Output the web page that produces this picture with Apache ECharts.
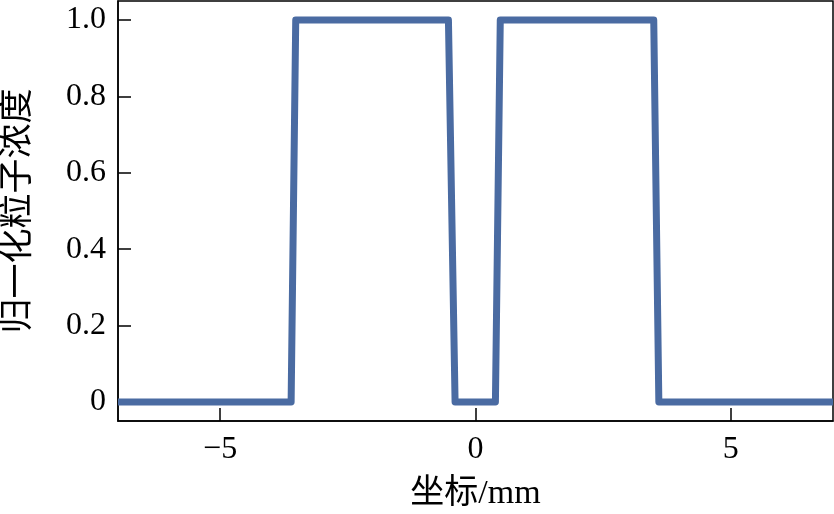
<!DOCTYPE html>
<html lang="zh">
<head>
    <meta charset="UTF-8">
    <title>归一化粒子浓度</title>
    <script src="https://cdn.jsdelivr.net/npm/echarts@6/dist/echarts.min.js"></script>
    <style>
        html, body { margin: 0; padding: 0; background: #fff; }
    </style>
</head>
<body>
<div id="main" style="width: 834px;height:514px;"></div>
<script>
    // profile (coordinate in mm, normalised concentration)
    var coordMm = [-7, -3.61, -3.52, -0.53, -0.40, 0.39, 0.485, 3.49, 3.59, 7];
    var concentration = [0, 0, 1, 1, 0, 0, 1, 1, 0, 0];
    var xTicks = [-5, 0, 5];
    var yTicks = [0, 0.2, 0.4, 0.6, 0.8, 1.0];

    var serif = '"Liberation Serif", "Times New Roman", serif';
    var cjk = '"Liberation Serif", "Noto Sans CJK SC", serif';

    var points = coordMm.map(function (x, i) {
        return [x, concentration[i]];
    });

    var myChart = echarts.init(document.getElementById('main'));
    myChart.setOption({
        animation: false,
        grid: {
            left: 118,
            right: 1,
            top: 1,
            bottom: 93,
            show: true,
            borderColor: '#000',
            borderWidth: 1.5,
            containLabel: false,
            outerBoundsMode: 'none'
        },
        xAxis: {
            type: 'value',
            min: -7,
            max: 7,
            name: '坐标/mm',
            nameLocation: 'middle',
            nameGap: 56,
            nameTextStyle: {color: '#000', fontSize: 34, fontFamily: cjk},
            axisLine: {show: true, onZero: false, lineStyle: {color: '#000', width: 1.5}},
            axisTick: {show: true, inside: true, length: 13, customValues: xTicks,
                lineStyle: {color: '#000', width: 1.5}},
            axisLabel: {
                customValues: xTicks,
                margin: 13,
                color: '#000',
                fontSize: 32,
                fontFamily: serif,
                formatter: function (v) {
                    return v < 0 ? '\u2212' + Math.abs(v) : String(v);
                }
            },
            splitLine: {show: false}
        },
        yAxis: {
            type: 'value',
            min: -0.05,
            max: 1.05,
            name: '归一化粒子浓度',
            nameLocation: 'middle',
            nameRotate: 90,
            nameGap: 82,
            nameTextStyle: {color: '#000', fontSize: 35, fontFamily: cjk},
            axisLine: {show: true, onZero: false, lineStyle: {color: '#000', width: 1.5}},
            axisTick: {show: true, inside: true, length: 13, customValues: yTicks,
                lineStyle: {color: '#000', width: 1.5}},
            axisLabel: {
                customValues: yTicks,
                margin: 12,
                color: '#000',
                fontSize: 32,
                fontFamily: serif,
                formatter: function (v) {
                    return v === 0 ? '0' : v.toFixed(1);
                }
            },
            splitLine: {show: false}
        },
        series: [{
            type: 'line',
            data: points,
            showSymbol: false,
            clip: true,
            lineStyle: {color: '#4a6ba2', width: 7, join: 'round', cap: 'butt'}
        }]
    });
</script>
</body>
</html>
